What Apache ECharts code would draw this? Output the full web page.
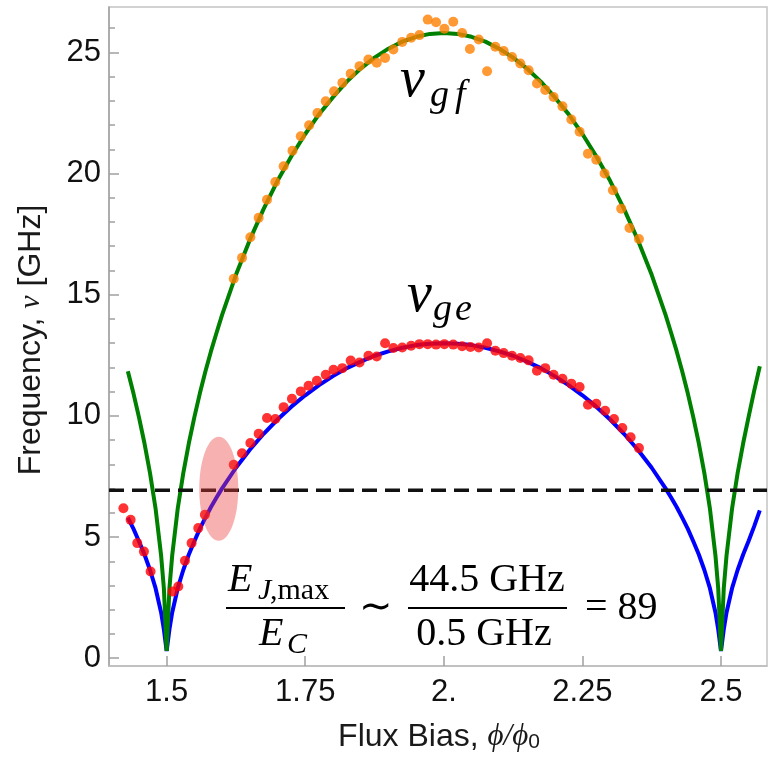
<!DOCTYPE html>
<html><head><meta charset="utf-8">
<script src="https://cdn.jsdelivr.net/npm/echarts@6/dist/echarts.min.js"></script>
<style>html,body{margin:0;padding:0;background:#fff}#c{width:769px;height:760px}</style>
</head><body><div id="c"></div>
<script>
// ---- data ----
const curveX = [1.43,1.44,1.45,1.46,1.47,1.48,1.49,1.495,1.5,1.505,1.51,1.52,1.53,1.54,1.55,1.56,1.57,1.58,1.59,1.6,1.625,1.65,1.675,1.7,1.725,1.75,1.775,1.8,1.825,1.85,1.875,1.9,1.925,1.95,1.975,2.0,2.025,2.05,2.075,2.1,2.125,2.15,2.175,2.2,2.225,2.25,2.275,2.3,2.325,2.35,2.375,2.4,2.41,2.42,2.43,2.44,2.45,2.46,2.47,2.48,2.49,2.495,2.5,2.505,2.51,2.52,2.53,2.54,2.55,2.56,2.57];
const geCurve = [5.80,5.35,4.83,4.28,3.64,2.89,1.89,1.19,0.3,1.19,1.89,2.89,3.64,4.28,4.83,5.35,5.80,6.24,6.63,7.01,7.86,8.60,9.26,9.85,10.38,10.85,11.27,11.64,11.97,12.24,12.48,12.66,12.81,12.92,12.98,13.0,12.98,12.92,12.81,12.66,12.48,12.24,11.97,11.64,11.27,10.85,10.38,9.85,9.26,8.60,7.86,7.01,6.63,6.24,5.80,5.35,4.83,4.28,3.64,2.89,1.89,1.19,0.3,1.19,1.89,2.89,3.64,4.28,4.85,5.45,6.1];
const gfCurve = [11.84,10.94,9.95,8.87,7.64,6.18,4.24,2.88,0.3,2.88,4.24,6.18,7.64,8.87,9.95,10.94,11.84,12.67,13.43,14.17,15.82,17.26,18.54,19.70,20.71,21.63,22.45,23.15,23.79,24.33,24.78,25.15,25.44,25.64,25.76,25.8,25.76,25.64,25.44,25.15,24.78,24.33,23.79,23.15,22.45,21.63,20.71,19.70,18.54,17.26,15.82,14.17,13.43,12.67,11.84,10.94,9.95,8.87,7.64,6.18,4.24,2.88,0.3,2.88,4.24,6.18,7.64,8.87,9.98,11.05,12.05];

const geDataX = [1.422,1.435,1.447,1.459,1.471,1.511,1.521,1.533,1.545,1.557,1.569,1.621,1.636,1.651,1.666,1.681,1.696,1.711,1.726,1.742,1.756,1.771,1.787,1.801,1.817,1.832,1.848,1.864,1.879,1.894,1.909,1.925,1.941,1.956,1.971,1.986,2.001,2.017,2.033,2.048,2.063,2.078,2.093,2.108,2.123,2.138,2.153,2.168,2.183,2.198,2.214,2.230,2.245,2.260,2.275,2.291,2.307,2.322,2.337,2.352];
const geDataY = [6.19,5.71,4.75,4.40,3.58,2.75,2.96,4.02,4.75,5.37,5.92,7.98,8.46,8.88,9.26,9.91,9.87,10.36,10.71,11.01,11.24,11.45,11.70,11.90,11.97,12.28,12.20,12.48,12.45,13.0,12.80,12.82,12.89,12.96,12.96,12.94,12.96,12.94,12.87,12.84,12.82,13.0,12.69,12.59,12.48,12.39,12.29,11.86,11.97,11.70,11.53,11.33,11.19,10.46,10.50,10.21,9.87,9.50,9.12,8.67];

const gfDataX = [1.621,1.636,1.651,1.666,1.681,1.696,1.711,1.727,1.742,1.757,1.772,1.787,1.802,1.817,1.832,1.848,1.864,1.879,1.894,1.909,1.925,1.941,1.956,1.971,1.986,2.001,2.017,2.033,2.047,2.063,2.078,2.093,2.108,2.123,2.138,2.153,2.168,2.183,2.198,2.214,2.230,2.245,2.260,2.275,2.290,2.305,2.320,2.335,2.352];
const gfDataY = [15.66,16.52,17.37,18.17,18.92,19.65,20.30,20.94,21.54,21.99,22.50,22.98,23.39,23.74,24.12,24.43,24.70,24.57,24.77,25.12,25.43,25.60,25.71,26.35,26.24,25.97,26.26,25.80,25.14,25.53,24.22,25.23,25.05,24.81,24.54,24.26,23.71,23.45,23.16,22.77,22.23,21.72,20.82,20.57,20.0,19.31,18.55,17.75,17.30];

const xTickValues = [1.5,1.75,2,2.25,2.5];
const xTickLabels = ['1.5','1.75','2.','2.25','2.5'];
const yTickValues = [0,5,10,15,20,25];
const yTickLabels = ['0','5','10','15','20','25'];
const yMinorTicks = [1,2,3,4,6,7,8,9,11,12,13,14,16,17,18,19,21,22,23,24,26];
const xRange = [1.396, 2.583];
const yRange = [-0.32, 26.87];
const thresholdY = 6.93;
const highlightCenter = [1.594, 6.99];

// ---- chart ----
const W = 769, GL = 109, GR = 2;
const chart = echarts.init(document.getElementById('c'), null, {renderer:'canvas'});
const sans = 'Liberation Sans, Arial, sans-serif';
const serif = 'Liberation Serif, Times New Roman, serif';
const axisGray = '#a0a0a0';

function T(x, baseline, text, size, italic, align, family) {
  return {type:'text', x:x, y: baseline - 0.34*size, z:100,
    style:{text:text, fontSize:size, fontFamily: family||serif, fontStyle: italic?'italic':'normal',
      fill:'#000', align: align||'left', verticalAlign:'middle'}};
}

chart.setOption({
  animation:false,
  grid:{left:GL, right:GR, top:7, bottom:94, show:true, borderColor:'#c4c4c4', borderWidth:1.5},
  xAxis:{type:'value', min:xRange[0], max:xRange[1],
    axisLine:{show:true, onZero:false, lineStyle:{color:'#bdbdbd', width:1.5}},
    axisTick:{show:true, inside:true, length:10, customValues:xTickValues, lineStyle:{color:axisGray, width:1.5}},
    axisLabel:{customValues:xTickValues, margin:11, fontSize:31, fontFamily:sans, color:'#111',
      formatter:function(v){const i=xTickValues.findIndex(t=>Math.abs(t-v)<1e-6);return i>=0?xTickLabels[i]:'';}},
    splitLine:{show:false}},
  yAxis:[
    {type:'value', min:yRange[0], max:yRange[1], position:'left',
      axisLine:{show:true, onZero:false, lineStyle:{color:axisGray, width:1.5}},
      axisTick:{show:true, inside:true, length:10, customValues:yTickValues, lineStyle:{color:axisGray, width:1.5}},
      axisLabel:{customValues:yTickValues, margin:8, fontSize:31, fontFamily:sans, color:'#111',
        formatter:function(v){const i=yTickValues.findIndex(t=>Math.abs(t-v)<1e-6);return i>=0?yTickLabels[i]:'';}},
      splitLine:{show:false}},
    {type:'value', min:yRange[0], max:yRange[1], position:'right', offset:-(W-GL-GR),
      axisLine:{show:false},
      axisTick:{show:true, inside:false, length:6, customValues:yMinorTicks, lineStyle:{color:axisGray, width:1.5}},
      axisLabel:{show:false}, splitLine:{show:false}}
  ],
  series:[
    {type:'line', data:curveX.map((x,i)=>[x,geCurve[i]]), symbol:'none', lineStyle:{color:'#0000ff', width:4}, z:2, silent:true},
    {type:'line', data:curveX.map((x,i)=>[x,gfCurve[i]]), symbol:'none', lineStyle:{color:'#008000', width:4}, z:3, silent:true},
    {type:'line', data:[[xRange[0],thresholdY],[xRange[1],thresholdY]], symbol:'none', lineStyle:{color:'#111', width:3.5, type:[15,8]}, z:4, silent:true},
    {type:'scatter', data:geDataX.map((x,i)=>[x,geDataY[i]]), symbolSize:10, itemStyle:{color:'#ff0000'}, z:5, silent:true},
    {type:'scatter', data:gfDataX.map((x,i)=>[x,gfDataY[i]]), symbolSize:10, itemStyle:{color:'#ff8000'}, z:5, silent:true}
  ]
});

const ec = chart.convertToPixel({xAxisIndex:0, yAxisIndex:0}, highlightCenter);

chart.setOption({graphic:[
  {type:'ellipse', shape:{cx:ec[0], cy:ec[1], rx:19.5, ry:52}, style:{fill:'rgba(235,60,60,0.4)'}, z:50, silent:true},
  // axis names
  {type:'text', x:31, y:340, rotation:Math.PI/2, z:100,
    style:{text:'{a|Frequency, }{b|ν}{a| [GHz]}', align:'center', verticalAlign:'middle',
      rich:{a:{fontSize:32, fontFamily:sans, fill:'#1a1a1a'}, b:{fontSize:30, fontFamily:serif, fontStyle:'italic', fill:'#1a1a1a'}}}},
  {type:'text', x:439, y:737, z:100,
    style:{text:'{a|Flux Bias, }{b|ϕ/ϕ}{s|0}', align:'center', verticalAlign:'middle',
      rich:{a:{fontSize:32, fontFamily:sans, fill:'#1a1a1a'}, b:{fontSize:31, fontFamily:serif, fontStyle:'italic', fill:'#1a1a1a'}, s:{fontSize:21, fontFamily:sans, fill:'#1a1a1a', verticalAlign:'bottom'}}}},
  // nu labels
  T(400, 100, 'ν', 56, true), T(430, 109, 'g', 38, true), T(455, 109, 'f', 38, true),
  T(407, 315, 'ν', 56, true), T(433, 323, 'g', 38, true), T(455, 323, 'e', 38, true),
  // formula
  T(228, 594, 'E', 40, true), T(258, 601, 'J', 30, true), T(270, 601, ',max', 30, false),
  {type:'line', shape:{x1:226, y1:608, x2:345, y2:608}, style:{stroke:'#000', lineWidth:2}, z:100},
  T(259, 648, 'E', 40, true), T(287, 655, 'C', 30, true),
  T(376, 622, '∼', 40, false, 'center'),
  T(487, 594, '44.5 GHz', 40, false, 'center'),
  {type:'line', shape:{x1:408, y1:608, x2:567, y2:608}, style:{stroke:'#000', lineWidth:2}, z:100},
  T(484, 648, '0.5 GHz', 40, false, 'center'),
  T(585, 622, '= 89', 40, false)
]});
</script></body></html>
